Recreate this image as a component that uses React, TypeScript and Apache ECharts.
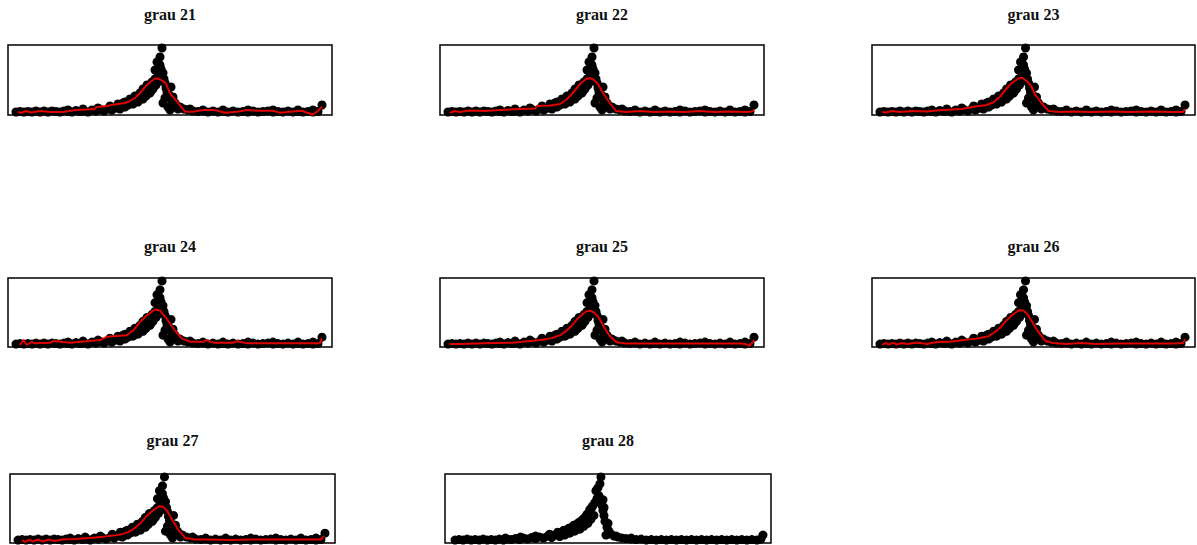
import React, { useEffect, useRef } from "react";
import * as echarts from "echarts";

// Panel titles
const titles: string[] = ["grau 21", "grau 22", "grau 23", "grau 24", "grau 25", "grau 26", "grau 27", "grau 28"];

// Observed points (x position along profile, value) - shared shape for grau 21..27
const pointsA: number[][] = [
  [8, 3], [12, 3.5], [16, 3], [20, 3.5], [24, 3], [28, 4], [32, 3], [36, 4], [40, 3], [44, 4],
  [48, 3.5], [52, 3], [56, 4], [60, 3.5], [64, 3], [68, 4.5], [72, 3.5], [76, 4], [80, 3], [84, 5],
  [88, 4], [92, 5.5], [96, 4], [100, 6], [104, 5], [108, 7], [112, 6], [114, 9], [117, 8], [117, 13],
  [120, 10], [122, 16], [125, 11], [127, 19], [130, 13], [132, 22], [135, 16], [135, 26], [138, 19], [139, 30],
  [142, 22], [144, 33], [145, 26], [147, 36], [147, 45], [148, 30], [150, 38], [150, 43], [149, 53], [152, 50],
  [154, 67], [155, 42], [157, 32], [155, 12], [157, 17], [159, 23], [160, 8], [162, 5], [163, 28], [165, 18],
  [167, 12], [169, 9], [172, 8], [176, 6], [180, 5], [185, 4], [190, 3.5], [195, 4], [200, 3], [205, 4],
  [210, 3], [215, 3.5], [220, 3], [225, 4], [230, 3], [235, 3.5], [240, 3], [245, 4], [250, 3], [255, 3.5],
  [260, 4], [265, 3], [270, 3.5], [275, 3], [280, 4], [285, 3], [290, 3.5], [295, 3], [300, 3.5], [305, 3],
  [310, 3.5], [314, 10],
  [60, 5], [75, 6], [90, 7], [102, 9], [110, 11], [115, 12], [124, 14], [128, 16], [133, 19], [137, 23],
  [141, 27], [143, 24], [146, 31], [151, 34], [153, 46], [152, 58], [156, 36], [158, 27], [161, 20], [164, 14],
  [170, 6], [182, 6], [195, 5], [215, 5], [240, 5], [265, 5], [290, 5], [305, 5]
];

// Observed points for grau 28
const pointsB: number[][] = [
  [10, 3], [14, 3.5], [18, 3], [22, 4], [26, 3], [30, 3.5], [34, 3], [38, 4], [42, 3], [46, 3.5],
  [50, 3], [54, 4], [58, 3], [62, 4], [66, 3.5], [70, 4.5], [74, 3.5], [78, 5], [82, 4], [86, 5.5],
  [90, 4.5], [94, 6], [98, 5], [102, 7], [106, 5.5], [110, 8], [114, 6.5], [116, 10], [119, 8], [121, 13],
  [124, 10], [126, 16], [129, 12], [131, 19], [134, 14], [136, 23], [138, 17], [140, 27], [142, 20], [143, 31],
  [145, 24], [146, 36], [148, 28], [149, 41], [150, 53], [151, 45], [152, 42], [153, 48], [155, 67], [156, 38],
  [157, 33], [158, 28], [159, 22], [160, 8], [161, 16], [163, 12], [165, 9], [168, 7], [172, 6], [176, 5],
  [180, 4.5], [185, 4], [190, 3.5], [195, 4], [200, 3], [205, 3.5], [210, 3], [215, 3.5], [220, 3], [225, 3.5],
  [230, 3], [235, 3.5], [240, 3], [245, 3.5], [250, 3], [255, 3.5], [260, 3], [265, 3.5], [270, 3], [275, 3.5],
  [280, 3], [285, 3.5], [290, 3], [295, 3.5], [300, 3], [305, 3.5], [310, 3], [314, 4], [316, 8],
  [60, 5], [75, 6], [90, 7], [104, 9], [112, 11], [118, 13], [123, 15], [128, 18], [133, 21], [138, 25],
  [141, 29], [144, 34], [147, 38], [152, 56], [154, 60], [157, 44], [158, 36], [162, 20], [170, 7], [185, 5]
];

// Fitted (red) curves per panel
const fit21: number[][] = [
  [10, 3.3], [13, 2], [18, 4], [23, 2.5], [32, 4], [43, 3], [55, 3], [68, 5], [87, 6], [88, 8],
  [100, 9], [103, 10], [117, 12], [122, 14], [127, 17], [132, 22], [137, 28], [142, 33], [147, 36.5], [150, 36.5],
  [153, 35], [158, 31.7], [162, 21.7], [169, 13.3], [177, 3.3], [185, 3.3], [195, 5], [207, 5], [217, 2.3], [229, 3.3],
  [239, 5], [252, 4.3], [265, 4.3], [272, 2.3], [282, 3.3], [294, 4.3], [299, 2.3], [305, 0.5], [310, 4.3], [314, 8.3]
];
const fit22: number[][] = [
  [10, 2], [14, 4], [20, 3], [30, 4.5], [45, 4], [60, 5], [80, 6], [95, 6.5], [97, 9], [110, 9.5],
  [120, 11], [126, 15], [131, 20], [136, 26], [141, 32], [146, 36], [150, 37], [154, 35], [158, 31], [163, 22],
  [169, 13], [176, 4], [186, 3], [200, 4], [215, 3], [230, 3.5], [245, 3], [260, 4], [275, 3], [290, 3.5],
  [305, 3], [312, 3.5], [314, 5]
];
const fit23: number[][] = [
  [10, 3], [14, 2.5], [20, 4], [28, 3], [40, 4], [55, 3.5], [70, 5], [90, 6], [100, 8], [115, 10],
  [122, 13], [128, 18], [133, 24], [138, 30], [143, 34], [148, 37], [151, 37], [155, 34], [159, 30], [164, 20],
  [170, 12], [177, 4], [188, 3], [200, 3.5], [220, 3], [240, 3.5], [260, 3], [280, 3.5], [300, 3], [312, 3],
  [314, 6]
];
const fit24: number[][] = [
  [12, 2], [15.3, 7], [18.7, 2], [23.7, 5.3], [27, 3.7], [42, 4.3], [45.3, 6], [62, 4.3], [92, 7], [98.7, 10.3],
  [118.7, 12], [125.3, 17], [132, 25.3], [138.7, 32], [147, 38], [152, 37], [158.7, 28.7], [165.3, 18.7], [173.7, 8.7], [182, 5.3],
  [195.3, 5.3], [198.7, 7], [205.3, 4.3], [225.3, 4.3], [228.7, 6], [238.7, 3.7], [312, 3.7], [313.7, 8.7]
];
const fit25: number[][] = [
  [10, 3], [20, 3], [35, 3.5], [55, 4], [75, 4.5], [90, 6], [100, 7], [112, 9], [120, 12], [126, 16],
  [131, 21], [136, 27], [141, 32], [146, 36], [150, 37], [154, 35], [158, 31], [163, 22], [169, 12], [176, 5],
  [185, 3.5], [200, 3.5], [220, 3.5], [240, 3.5], [260, 3.5], [280, 3.5], [300, 3.5], [306, 3], [309, 1], [312, 4],
  [314, 7]
];
const fit26: number[][] = [
  [10, 2], [13, 4], [17, 2.5], [21, 4.5], [25, 2.5], [30, 4], [36, 3], [45, 4.5], [55, 3], [65, 5],
  [80, 5.5], [92, 7], [105, 8.5], [117, 11], [123, 15], [129, 20], [134, 26], [139, 31], [144, 35], [148, 37.5],
  [152, 37], [156, 33], [161, 25], [167, 15], [174, 6], [182, 4], [195, 3], [210, 4], [225, 3], [245, 3.5],
  [265, 3.5], [285, 3.5], [305, 3.5], [312, 4], [314, 8]
];
const fit27: number[][] = [
  [12, 3], [15, 1], [19, 3.5], [23, 1.5], [28, 3.5], [33, 1.5], [38, 3.5], [44, 2], [52, 3.5], [65, 4],
  [80, 5], [95, 6.5], [110, 8.5], [118, 11], [124, 15], [130, 20], [135, 26], [140, 31], [145, 35], [149, 37.5],
  [153, 36.5], [157, 32], [162, 23], [168, 13], [175, 5], [185, 3.5], [200, 3.5], [220, 3], [240, 3.5], [260, 3.5],
  [280, 3.5], [300, 3.5], [310, 3.5], [313, 7]
];

const panelPoints: number[][][] = [pointsA, pointsA, pointsA, pointsA, pointsA, pointsA, pointsA, pointsB];
const panelFits: (number[][] | null)[] = [fit21, fit22, fit23, fit24, fit25, fit26, fit27, null];

// Layout (pixels)
const boxes = [
  { left: 8, top: 45, width: 324, height: 70 },
  { left: 440, top: 45, width: 324, height: 70 },
  { left: 872, top: 45, width: 323, height: 70 },
  { left: 8, top: 278, width: 324, height: 69 },
  { left: 440, top: 278, width: 324, height: 69 },
  { left: 872, top: 278, width: 323, height: 69 },
  { left: 10, top: 474, width: 325, height: 69 },
  { left: 445, top: 474, width: 326, height: 69 },
];
const titleTops = [1, 1, 1, 233, 233, 233, 427, 427];

export default function App() {
  const ref = useRef<HTMLDivElement>(null);
  useEffect(() => {
    document.body.style.margin = "0";
    const chart = echarts.init(ref.current!, null, { renderer: "svg" });
    const grid = boxes.map((b) => ({
      left: b.left, top: b.top, width: b.width, height: b.height,
      show: true, borderColor: "#000", borderWidth: 1.5, backgroundColor: "transparent",
      containLabel: false,
    }));
    const xAxis = boxes.map((_, i) => ({ type: "value", gridIndex: i, min: 0, max: 324, show: false }));
    const yAxis = boxes.map((_, i) => ({ type: "value", gridIndex: i, min: 0, max: 70, show: false }));
    const title = titles.map((t, i) => ({
      text: t,
      left: boxes[i].left + boxes[i].width / 2 - 5,
      top: titleTops[i],
      textAlign: "center",
      textStyle: { fontFamily: "Liberation Serif", fontWeight: "bold", fontSize: 16, color: "#111" },
    }));
    const series: any[] = [];
    panelPoints.forEach((pts, i) => {
      series.push({
        type: "scatter", xAxisIndex: i, yAxisIndex: i, data: pts,
        symbolSize: 9, itemStyle: { color: "#000", opacity: 1 }, clip: false,
      });
      const f = panelFits[i];
      if (f) {
        series.push({
          type: "line", xAxisIndex: i, yAxisIndex: i, data: f, showSymbol: false,
          lineStyle: { color: "#e00000", width: 2 }, z: 3,
        });
      }
    });
    chart.setOption({ animation: false, title, grid, xAxis, yAxis, series });
    return () => chart.dispose();
  }, []);
  return <div ref={ref} style={{ width: 1197, height: 545 }} />;
}
